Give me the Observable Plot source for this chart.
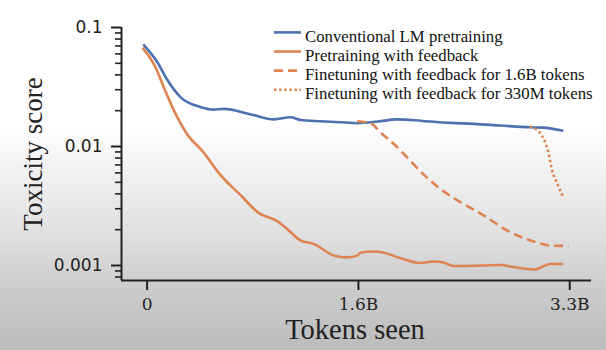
<!DOCTYPE html>
<html>
<head>
<meta charset="utf-8">
<script src="https://cdn.jsdelivr.net/npm/d3@7"></script>
<script src="https://cdn.jsdelivr.net/npm/@observablehq/plot@0.6"></script>
<style>
  html, body { margin: 0; padding: 0; }
  body {
    width: 606px; height: 350px; overflow: hidden;
    background: linear-gradient(to bottom, #ffffff 0px, #ffffff 125px, #f3f3f3 165px, #e0e0e0 235px, #cbcbcb 290px, #bcbcbc 350px);
  }
  #chart { position: relative; width: 606px; height: 350px; }
</style>
</head>
<body>
<div id="chart"></div>
<script>
// Tokens seen (billions) and toxicity score
const conventionalX = [-0.03, 0.08, 0.16, 0.26, 0.42, 0.52, 0.6, 0.81, 0.99, 1.12, 1.2, 1.35, 1.55, 1.64, 1.8, 1.95, 2.15, 2.37, 2.55, 2.76, 2.99, 3.09, 3.25];
const conventionalY = [0.072, 0.051, 0.036, 0.026, 0.0214, 0.0204, 0.0207, 0.0186, 0.0169, 0.0176, 0.0167, 0.0163, 0.0159, 0.0157, 0.0162, 0.0169, 0.0164, 0.0158, 0.0155, 0.0150, 0.0145, 0.0144, 0.01355];

const feedbackX = [-0.035, 0.065, 0.13, 0.21, 0.31, 0.44, 0.57, 0.73, 0.87, 1.015, 1.1, 1.2, 1.3, 1.46, 1.56, 1.64, 1.665, 1.76, 1.85, 1.98, 2.13, 2.24, 2.315, 2.39, 2.63, 2.76, 2.86, 3.02, 3.15, 3.25];
const feedbackY = [0.0675, 0.0464, 0.0315, 0.020, 0.0128, 0.00895, 0.0058, 0.0039, 0.00277, 0.00236, 0.0020, 0.00162, 0.00152, 0.00121, 0.00117, 0.00121, 0.00128, 0.00131, 0.00128, 0.00115, 0.00105, 0.00108, 0.00106, 0.00099, 0.0010, 0.00101, 0.00097, 0.000925, 0.00103, 0.00103];

const finetune16X = [1.64, 1.745, 1.82, 1.925, 2.04, 2.16, 2.29, 2.446, 2.63, 2.81, 3.02, 3.15, 3.29];
const finetune16Y = [0.0163, 0.0157, 0.0132, 0.01054, 0.0079, 0.0058, 0.0044, 0.0034, 0.00263, 0.00197, 0.00159, 0.00147, 0.00146];

const finetune330X = [2.99, 3.07, 3.13, 3.17, 3.185, 3.25];
const finetune330Y = [0.0147, 0.0129, 0.0092, 0.0059, 0.0054, 0.00375];

const seriesNames = ["Conventional LM pretraining", "Pretraining with feedback", "Finetuning with feedback for 1.6B tokens", "Finetuning with feedback for 330M tokens"];
const seriesColors = ["#4c72b0", "#dd8452", "#dd8452", "#dd8452"];
const seriesDash = [null, null, "9,5", "2.5,2.6"];

const xTicks = [0, 1.65, 3.3];
const xTickLabels = ["0", "1.6B", "3.3B"];
const yTicks = [0.1, 0.01, 0.001];
const yTickLabels = ["0.1", "0.01", "0.001"];
const yMinorTicks = [0.09, 0.08, 0.07, 0.06, 0.05, 0.04, 0.03, 0.02, 0.009, 0.008, 0.007, 0.006, 0.005, 0.004, 0.003, 0.002, 0.0009, 0.0008];

const xTitle = "Tokens seen";
const yTitle = "Toxicity score";

const xDomain = [-0.2, 3.47];
const yDomain = [0.000748, 0.1];

const toRows = (xs, ys) => xs.map((x, i) => ({x, y: ys[i]}));
const series = [
  toRows(conventionalX, conventionalY),
  toRows(feedbackX, feedbackY),
  toRows(finetune16X, finetune16Y),
  toRows(finetune330X, finetune330Y)
];

const axisColor = "#222";

const lineMarks = series.map((rows, i) => Plot.line(rows, {
  x: "x", y: "y", stroke: seriesColors[i], strokeWidth: 2.6,
  strokeDasharray: seriesDash[i] || undefined, curve: "monotone-x",
  strokeLinecap: "butt"
}));

const plot = Plot.plot({
  width: 606, height: 350,
  marginLeft: 121, marginRight: 15, marginTop: 27, marginBottom: 70,
  style: {background: "transparent", overflow: "visible"},
  x: {domain: xDomain},
  y: {type: "log", domain: yDomain},
  marks: [
    Plot.axisY(yMinorTicks, {tickSize: 6, tickFormat: () => "", stroke: axisColor, strokeWidth: 1.6, label: null}),
    Plot.axisY(yTicks, {tickSize: 10, tickPadding: 9, tickFormat: d => yTickLabels[yTicks.indexOf(d)], stroke: axisColor, fill: "#222", strokeWidth: 2, fontSize: 17, fontFamily: "DejaVu Sans", label: null}),
    Plot.axisX(xTicks, {tickSize: 10, tickPadding: 7, tickFormat: d => xTickLabels[xTicks.indexOf(d)], stroke: axisColor, fill: "#222", strokeWidth: 2, fontSize: 17, fontFamily: "DejaVu Serif", label: null}),
    Plot.ruleX([xDomain[0]], {y1: yDomain[0], y2: yDomain[1], stroke: axisColor, strokeWidth: 2}),
    Plot.ruleY([yDomain[0]], {x1: xDomain[0], x2: xDomain[1], stroke: axisColor, strokeWidth: 2}),
    ...lineMarks
  ]
});

document.getElementById("chart").appendChild(plot);

// Axis titles and legend
const svg = d3.select(plot);
svg.append("text")
  .attr("transform", "translate(42,154) rotate(-90)")
  .attr("text-anchor", "middle")
  .attr("font-family", "Liberation Serif")
  .attr("font-size", 27)
  .attr("fill", "#222")
  .text(yTitle);
svg.append("text")
  .attr("x", 355).attr("y", 339)
  .attr("text-anchor", "middle")
  .attr("font-family", "Liberation Serif")
  .attr("font-size", 28.5)
  .attr("fill", "#222")
  .text(xTitle);

const legend = svg.append("g").attr("text-anchor", "start");
seriesNames.forEach((name, i) => {
  const base = 41.7 + 19.1 * i;
  legend.append("line")
    .attr("x1", 274).attr("x2", 301)
    .attr("y1", base - 9.3).attr("y2", base - 9.3)
    .attr("stroke", seriesColors[i]).attr("stroke-width", 2.6)
    .attr("stroke-dasharray", seriesDash[i]);
  legend.append("text")
    .attr("x", 305).attr("y", base)
    .attr("text-anchor", "start")
    .attr("font-family", "Liberation Serif")
    .attr("font-size", 16.8)
    .attr("fill", "#111")
    .text(name);
});
</script>
</body>
</html>
